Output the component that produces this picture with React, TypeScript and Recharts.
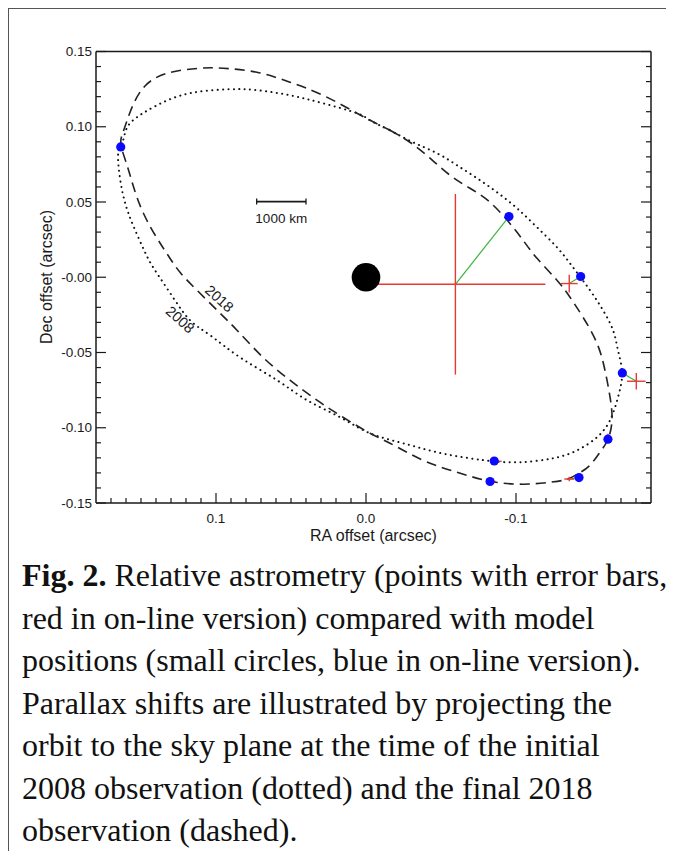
import React from 'react';
import { ComposedChart, Line, Scatter, XAxis, YAxis, ErrorBar } from 'recharts';

// Projected orbit at the 2008 epoch (dotted), RA / Dec offsets in arcsec
const orbit2008 = [
  { x: -0.016, y: 0.0977 }, { x: -0.0313, y: 0.0897 }, { x: -0.0473, y: 0.0824 },
  { x: -0.0607, y: 0.0744 }, { x: -0.074, y: 0.0658 }, { x: -0.0873, y: 0.0565 },
  { x: -0.1007, y: 0.0458 }, { x: -0.114, y: 0.0332 }, { x: -0.1273, y: 0.0199 },
  { x: -0.138, y: 0.0066 }, { x: -0.1493, y: -0.0086 }, { x: -0.158, y: -0.0219 },
  { x: -0.1647, y: -0.0352 }, { x: -0.168, y: -0.0485 }, { x: -0.1707, y: -0.0638 },
  { x: -0.168, y: -0.0797 }, { x: -0.1627, y: -0.095 }, { x: -0.154, y: -0.1063 },
  { x: -0.1407, y: -0.115 }, { x: -0.1247, y: -0.1203 }, { x: -0.1027, y: -0.1229 },
  { x: -0.0853, y: -0.1223 }, { x: -0.0693, y: -0.1203 }, { x: -0.0473, y: -0.1163 },
  { x: -0.0247, y: -0.1103 }, { x: -0.0027, y: -0.1037 }, { x: 0.0173, y: -0.093 },
  { x: 0.0393, y: -0.0817 }, { x: 0.0593, y: -0.0684 }, { x: 0.084, y: -0.0532 },
  { x: 0.104, y: -0.0385 }, { x: 0.1173, y: -0.0286 }, { x: 0.1287, y: -0.0133 },
  { x: 0.1407, y: 0.0047 }, { x: 0.1473, y: 0.0166 }, { x: 0.1553, y: 0.0346 },
  { x: 0.1607, y: 0.0498 }, { x: 0.164, y: 0.0658 }, { x: 0.1653, y: 0.0811 },
  { x: 0.1633, y: 0.0864 }, { x: 0.1607, y: 0.0957 }, { x: 0.1553, y: 0.1043 },
  { x: 0.1393, y: 0.1143 }, { x: 0.1173, y: 0.1223 }, { x: 0.0907, y: 0.1249 },
  { x: 0.0727, y: 0.1243 }, { x: 0.0507, y: 0.1209 }, { x: 0.0287, y: 0.1156 },
  { x: 0.006, y: 0.109 }, { x: -0.0027, y: 0.1043 }, { x: -0.016, y: 0.0977 },
];

// Projected orbit at the 2018 epoch (dashed)
const orbit2018 = [
  { x: -0.016, y: 0.0977 }, { x: -0.0293, y: 0.0897 }, { x: -0.0427, y: 0.0791 },
  { x: -0.056, y: 0.0678 }, { x: -0.0693, y: 0.0591 }, { x: -0.0827, y: 0.0498 },
  { x: -0.0953, y: 0.0365 }, { x: -0.1047, y: 0.0246 }, { x: -0.114, y: 0.0126 },
  { x: -0.1273, y: -0.002 }, { x: -0.136, y: -0.0133 }, { x: -0.1447, y: -0.0266 },
  { x: -0.154, y: -0.0439 }, { x: -0.1593, y: -0.0618 }, { x: -0.1627, y: -0.0797 },
  { x: -0.164, y: -0.095 }, { x: -0.1613, y: -0.1076 }, { x: -0.156, y: -0.1163 },
  { x: -0.1493, y: -0.1249 }, { x: -0.142, y: -0.1302 }, { x: -0.134, y: -0.1342 },
  { x: -0.1227, y: -0.1362 }, { x: -0.1047, y: -0.1375 }, { x: -0.0827, y: -0.1355 },
  { x: -0.0607, y: -0.1296 }, { x: -0.038, y: -0.1216 }, { x: -0.016, y: -0.1103 },
  { x: -0.0027, y: -0.1037 }, { x: 0.0153, y: -0.093 }, { x: 0.0327, y: -0.0817 },
  { x: 0.0507, y: -0.0684 }, { x: 0.0687, y: -0.0532 }, { x: 0.086, y: -0.0352 },
  { x: 0.0993, y: -0.0219 }, { x: 0.1127, y: -0.0086 }, { x: 0.124, y: 0.0033 },
  { x: 0.132, y: 0.0146 }, { x: 0.1393, y: 0.0259 }, { x: 0.1487, y: 0.0432 },
  { x: 0.1553, y: 0.0611 }, { x: 0.1593, y: 0.0744 }, { x: 0.1633, y: 0.0877 },
  { x: 0.162, y: 0.0963 }, { x: 0.1573, y: 0.1096 }, { x: 0.1487, y: 0.1256 },
  { x: 0.1327, y: 0.1355 }, { x: 0.1107, y: 0.1389 }, { x: 0.0953, y: 0.1389 },
  { x: 0.0727, y: 0.1362 }, { x: 0.0507, y: 0.1296 }, { x: 0.0287, y: 0.1209 },
  { x: 0.006, y: 0.109 }, { x: -0.0027, y: 0.1043 }, { x: -0.016, y: 0.0977 },
];

// model positions (blue) and measured astrometry with errors (red)
const modelPositions = [
  { x: 0.1635, y: 0.0866 }, { x: -0.0953, y: 0.0403 }, { x: -0.1431, y: 0.0005 },
  { x: -0.1709, y: -0.0636 }, { x: -0.1613, y: -0.1076 }, { x: -0.0855, y: -0.1221 },
  { x: -0.0827, y: -0.1357 }, { x: -0.142, y: -0.1331 },
];
const measuredPositions = [
  { x: 0.1633, y: 0.0866, ex: 0.0023, ey: 0.001 },
  { x: -0.0596, y: -0.0047, ex: 0.06, ey: 0.06 },
  { x: -0.1355, y: -0.0042, ex: 0.0056, ey: 0.0059 },
  { x: -0.1802, y: -0.0691, ex: 0.0062, ey: 0.0055 },
  { x: -0.1613, y: -0.107, ex: 0.001, ey: 0.003 },
  { x: -0.0869, y: -0.1223, ex: 0.0035, ey: 0.002 },
  { x: -0.0833, y: -0.1357, ex: 0.0033, ey: 0.001 },
  { x: -0.1355, y: -0.1341, ex: 0.0033, ey: 0.0015 },
];
const primary = [{ x: 0, y: 0 }];
const scaleBar = [{ x: 0.0729, y: 0.0503 }, { x: 0.04, y: 0.0503 }];
const scaleLabel = [{ x: 0.0565, y: 0.0503, text: '1000 km' }];
const yearLabels = [
  { x: 0.0978, y: -0.0142, text: '2018' },
  { x: 0.124, y: -0.0281, text: '2008' },
];

const xMajorTicks = [0.1, 0, -0.1];
const xMajorLabels = ['0.1', '0.0', '-0.1'];
const yMajorTicks = [0.15, 0.1, 0.05, 0, -0.05, -0.1, -0.15];
const yMajorLabels = ['0.15', '0.10', '0.05', '-0.00', '-0.05', '-0.10', '-0.15'];

// minor ticks every 0.01
const xTicks: number[] = [];
for (let i = -18; i <= 17; i++) xTicks.push(i / 100);
const yTicks: number[] = [];
for (let i = -15; i <= 15; i++) yTicks.push(i / 100);

const SANS = '"Liberation Sans", Arial, sans-serif';
const INK = '#1a1a1a';
const findMajor = (list: number[], v: number) => list.findIndex((t) => Math.abs(t - v) < 1e-6);

const BottomTick = ({ x, y, payload }: any) => {
  const i = findMajor(xMajorTicks, payload.value);
  return (
    <g>
      <line x1={x} x2={x} y1={y} y2={y - (i >= 0 ? 10 : 5)} stroke={INK} strokeWidth={1.2} />
      {i >= 0 && (
        <text x={x} y={y + 20} textAnchor="middle" fontSize={13.5} fontFamily={SANS} fill={INK}>
          {xMajorLabels[i]}
        </text>
      )}
    </g>
  );
};

const TopTick = ({ x, y, payload }: any) => {
  const i = findMajor(xMajorTicks, payload.value);
  return <line x1={x} x2={x} y1={y} y2={y + (i >= 0 ? 10 : 5)} stroke={INK} strokeWidth={1.2} />;
};

const LeftTick = ({ x, y, payload }: any) => {
  const i = findMajor(yMajorTicks, payload.value);
  return (
    <g>
      <line x1={x} x2={x + (i >= 0 ? 10 : 5)} y1={y} y2={y} stroke={INK} strokeWidth={1.2} />
      {i >= 0 && (
        <text x={x - 4} y={y + 4.5} textAnchor="end" fontSize={13.5} fontFamily={SANS} fill={INK}>
          {yMajorLabels[i]}
        </text>
      )}
    </g>
  );
};

const RightTick = ({ x, y, payload }: any) => {
  const i = findMajor(yMajorTicks, payload.value);
  return <line x1={x} x2={x - (i >= 0 ? 10 : 5)} y1={y} y2={y} stroke={INK} strokeWidth={1.2} />;
};

const caption = [
  'red in on-line version) compared with model',
  'positions (small circles, blue in on-line version).',
  'Parallax shifts are illustrated by projecting the',
  'orbit to the sky plane at the time of the initial',
  '2008 observation (dotted) and the final 2018',
  'observation (dashed).',
];

const App: React.FC = () => {
  const residuals = measuredPositions.map((m, i) => [{ x: m.x, y: m.y }, modelPositions[i]]);
  const axisLine = { stroke: INK, strokeWidth: 1.5 };

  return (
    <div style={{ width: 658, height: 843, borderTop: '1px solid #555', borderLeft: '1px solid #555', boxSizing: 'border-box' }}>
      <div style={{ width: 656, height: 545 }}>
        <ComposedChart width={656} height={545} margin={{ top: 41.5, right: 13, bottom: 21, left: 27 }}>
          <XAxis
            type="number"
            dataKey="x"
            domain={[-0.19, 0.18]}
            allowDataOverflow
            reversed
            ticks={xTicks}
            interval={0}
            tickSize={0}
            tickMargin={0}
            tickLine={false}
            tick={<BottomTick />}
            axisLine={axisLine}
            height={30}
            label={() => (
              <text x={364.5} y={531.5} textAnchor="middle" fontSize={16} fontFamily={SANS} fill={INK}>
                RA offset (arcsec)
              </text>
            )}
          />
          <XAxis
            xAxisId="top"
            orientation="top"
            type="number"
            domain={[-0.19, 0.18]}
            allowDataOverflow
            reversed
            ticks={xTicks}
            interval={0}
            tickSize={0}
            tickMargin={0}
            tickLine={false}
            tick={<TopTick />}
            axisLine={axisLine}
            height={1}
          />
          <YAxis
            type="number"
            dataKey="y"
            domain={[-0.15, 0.15]}
            allowDataOverflow
            ticks={yTicks}
            interval={0}
            tickSize={0}
            tickMargin={0}
            tickLine={false}
            tick={<LeftTick />}
            axisLine={axisLine}
            width={60}
            label={() => (
              <text
                x={37}
                y={268}
                transform="rotate(-90 37 268)"
                textAnchor="middle"
                dominantBaseline="central"
                fontSize={16}
                fontFamily={SANS}
                fill={INK}
              >
                Dec offset (arcsec)
              </text>
            )}
          />
          <YAxis
            yAxisId="right"
            orientation="right"
            type="number"
            domain={[-0.15, 0.15]}
            allowDataOverflow
            ticks={yTicks}
            interval={0}
            tickSize={0}
            tickMargin={0}
            tickLine={false}
            tick={<RightTick />}
            axisLine={axisLine}
            width={1}
          />

          <Line
            data={orbit2008}
            dataKey="y"
            type="natural"
            stroke="#111"
            strokeWidth={2}
            strokeDasharray="0.1 5.3"
            strokeLinecap="round"
            dot={false}
            activeDot={false}
            isAnimationActive={false}
          />
          <Line
            data={orbit2018}
            dataKey="y"
            type="natural"
            stroke="#222"
            strokeWidth={1.6}
            strokeDasharray="10 6"
            dot={false}
            activeDot={false}
            isAnimationActive={false}
          />

          <Scatter
            data={primary}
            dataKey="y"
            shape={(p: any) => <circle cx={p.cx} cy={p.cy} r={14.3} fill="#000" />}
            isAnimationActive={false}
          />

          {residuals.map((seg, i) => (
            <Line
              key={`res-${i}`}
              data={seg}
              dataKey="y"
              type="linear"
              stroke="#3cb33c"
              strokeWidth={1.2}
              dot={false}
              activeDot={false}
              isAnimationActive={false}
            />
          ))}

          <Scatter
            data={modelPositions}
            dataKey="y"
            shape={(p: any) => <circle cx={p.cx} cy={p.cy} r={4.6} fill="#0a0aff" />}
            isAnimationActive={false}
          />

          <Scatter data={measuredPositions} dataKey="y" shape={() => <g />} isAnimationActive={false}>
            <ErrorBar dataKey="ex" direction="x" width={0} stroke="#e53b35" strokeWidth={1.4} />
            <ErrorBar dataKey="ey" direction="y" width={0} stroke="#e53b35" strokeWidth={1.4} />
          </Scatter>

          <Scatter
            data={scaleBar}
            dataKey="y"
            line={{ stroke: INK, strokeWidth: 1.8 }}
            shape={(p: any) => <line x1={p.cx} x2={p.cx} y1={p.cy - 3} y2={p.cy + 3} stroke={INK} strokeWidth={1.3} />}
            isAnimationActive={false}
          />
          <Scatter
            data={scaleLabel}
            dataKey="y"
            shape={(p: any) => (
              <text x={p.cx} y={p.cy + 21} textAnchor="middle" fontSize={13.5} fontFamily={SANS} fill={INK}>
                {p.payload.text}
              </text>
            )}
            isAnimationActive={false}
          />
          <Scatter
            data={yearLabels}
            dataKey="y"
            shape={(p: any) => (
              <text
                x={p.cx}
                y={p.cy}
                transform={`rotate(42 ${p.cx} ${p.cy})`}
                textAnchor="middle"
                dominantBaseline="central"
                fontSize={14.5}
                fontFamily={SANS}
                fill={INK}
              >
                {p.payload.text}
              </text>
            )}
            isAnimationActive={false}
          />
        </ComposedChart>
      </div>
      <div
        style={{
          paddingLeft: 13,
          fontFamily: '"Liberation Serif", "Times New Roman", serif',
          fontSize: 32,
          lineHeight: '42.5px',
          color: '#111',
          whiteSpace: 'nowrap',
        }}
      >
        <div>
          <b>Fig. 2.</b> Relative astrometry (points with error bars,
        </div>
        {caption.map((line) => (
          <div key={line}>{line}</div>
        ))}
      </div>
    </div>
  );
};

export default App;
